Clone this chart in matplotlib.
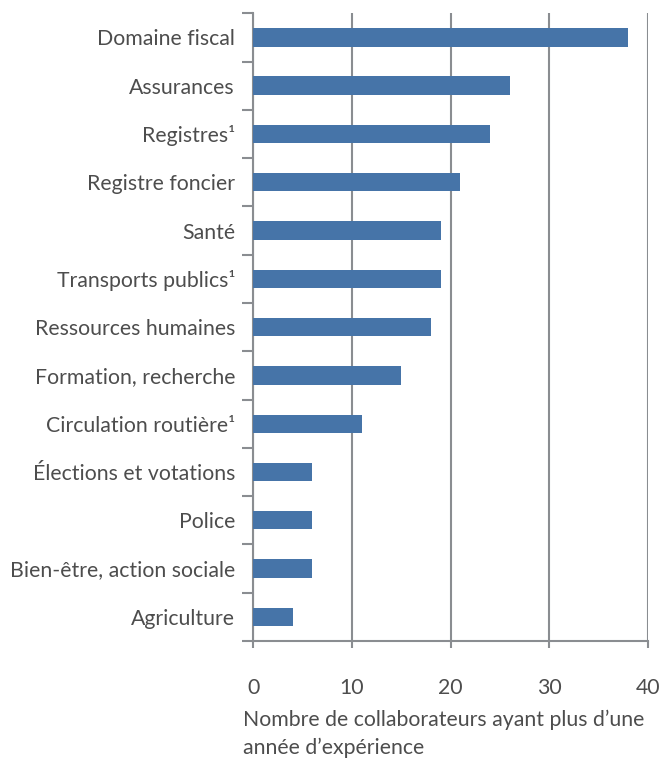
import matplotlib
matplotlib.use("Agg")
import matplotlib.pyplot as plt
import numpy as np

# Data
categories = [
    "Domaine fiscal", "Assurances", "Registres\u00b9", "Registre foncier", "Santé",
    "Transports publics\u00b9", "Ressources humaines", "Formation, recherche",
    "Circulation routière\u00b9", "Élections et votations", "Police",
    "Bien-être, action sociale", "Agriculture",
]
values = [38, 26, 24, 21, 19, 19, 18, 15, 11, 6, 6, 6, 4]
x_ticks = [0, 10, 20, 30, 40]

bar_color = "#4674a8"
axis_color = "#8a8d91"
text_color = "#4d4d4d"
fs = 15.3

plt.rcParams["font.family"] = ["Lato", "DejaVu Sans"]

fig = plt.figure(figsize=(6.66, 7.6), dpi=100)
ax = fig.add_axes([0.380, 0.1566, 0.593, 0.826])

y = np.arange(len(categories))
ax.barh(y, values, height=0.38, color=bar_color, zorder=3)

ax.set_ylim(len(categories) - 0.5, -0.5)
ax.set_xlim(0, 40)

# vertical grid lines
ax.set_xticks(x_ticks)
ax.set_xticklabels([str(t) for t in x_ticks], fontsize=fs, color=text_color)
ax.grid(axis="x", color=axis_color, linewidth=1.5, zorder=0)
ax.tick_params(axis="x", length=5, width=1.5, color=axis_color, pad=22)

# category labels with tick marks between categories
ax.set_yticks(y)
ax.set_yticklabels(categories, fontsize=fs, color=text_color)
ax.set_yticks(np.arange(len(categories) + 1) - 0.5, minor=True)
ax.tick_params(axis="y", which="major", length=0, pad=13)
ax.tick_params(axis="y", which="minor", length=8, width=1.5, color=axis_color)

for side in ["top", "right"]:
    ax.spines[side].set_visible(False)
for side in ["left", "bottom"]:
    ax.spines[side].set_color(axis_color)
    ax.spines[side].set_linewidth(1.5)

fig.text(243 / 666, 1 - 720 / 760, "Nombre de collaborateurs ayant plus d\u2019une",
         fontsize=fs, color=text_color, va="center", ha="left")
fig.text(243 / 666, 1 - 748 / 760, "année d\u2019expérience",
         fontsize=fs, color=text_color, va="center", ha="left")

fig.savefig("out.png", dpi=100, facecolor="white")
